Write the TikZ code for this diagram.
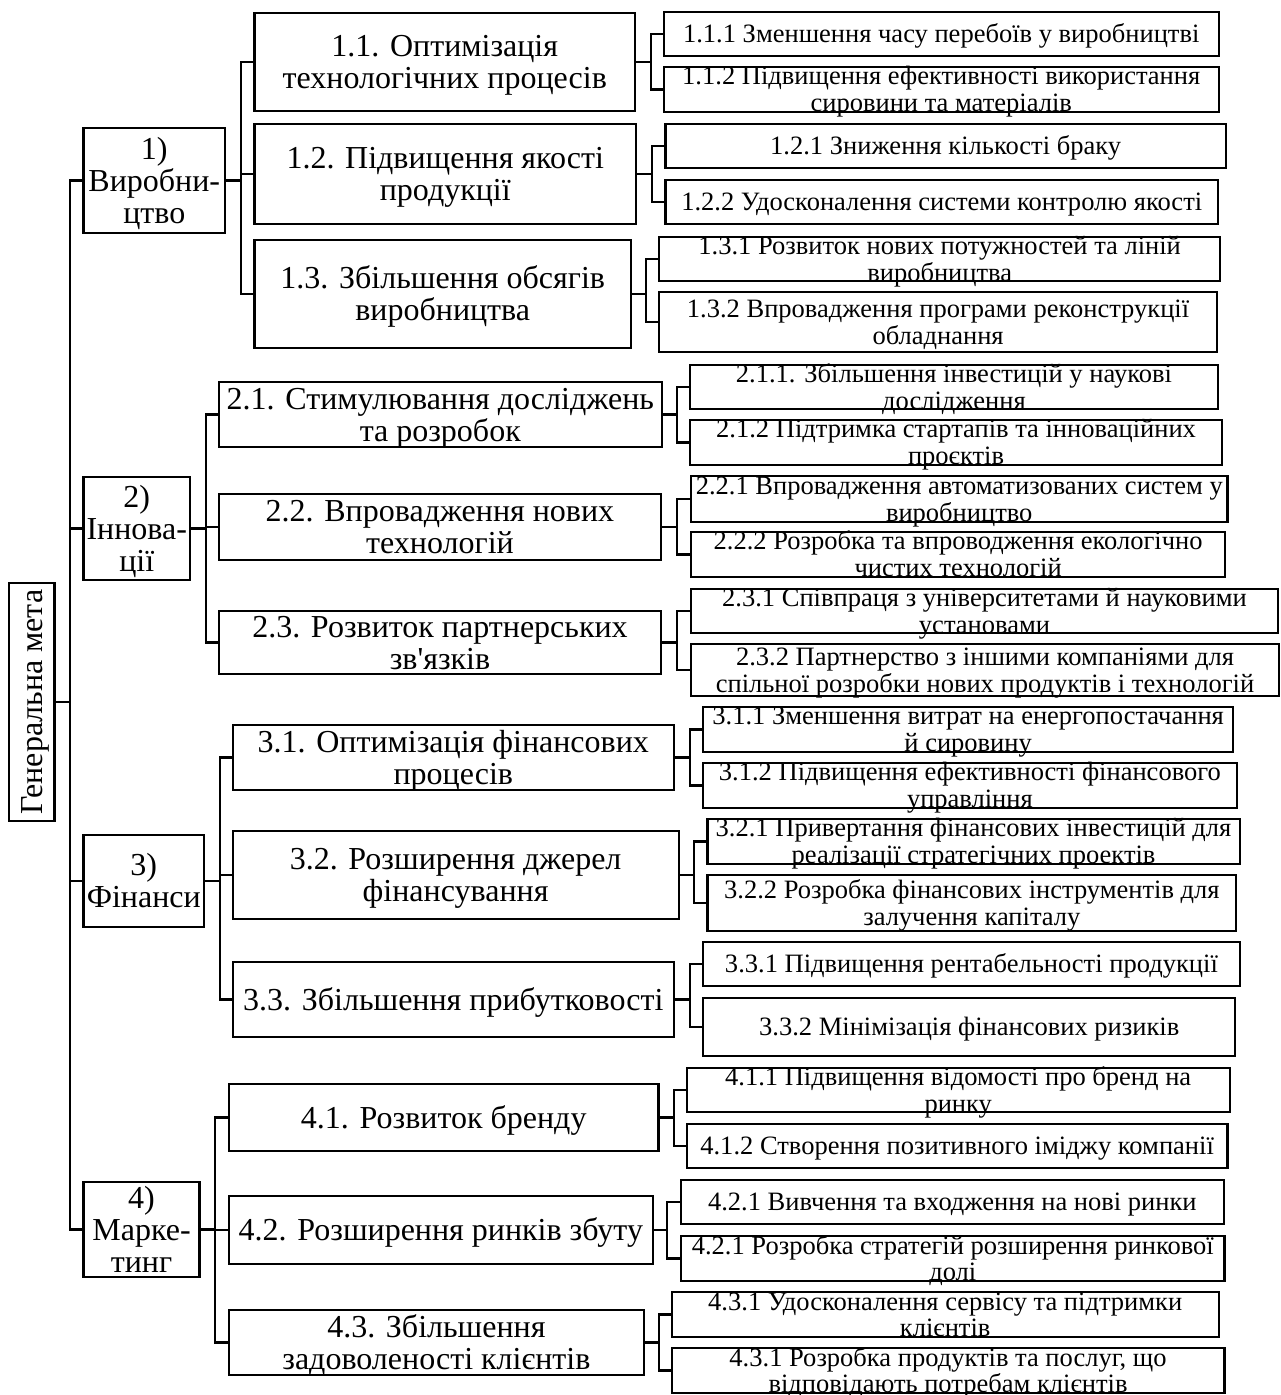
\documentclass[tikz,border=0pt]{standalone}
\usepackage{fontspec}
\setmainfont{Liberation Serif}
\usepackage{tikz}

\begin{document}
\begin{tikzpicture}[x=0.4375pt, y=-0.4375pt,
	sz/.style 2 args={minimum width=#1*0.4375pt, minimum height=#2*0.4375pt},
	goal/.style={draw, line width=0.9pt, inner sep=0pt, rotate=90, font={\fontsize{14}{14}\selectfont}},
	dir/.style={draw, line width=0.9pt, inner sep=0pt, align=center, font={\fontsize{14}{14}\selectfont\lineskiplimit=-20pt}},
	task/.style={dir},
	act/.style={draw, line width=0.9pt, inner sep=0pt, align=center, font={\fontsize{11.6}{11.6}\selectfont\lineskiplimit=-20pt}},
	one/.style={text height=7.65pt, text depth=0pt},
	two/.style={text height=19.25pt, text depth=0pt},
	One/.style={text height=9.3pt, text depth=0pt},
	Two/.style={text height=23.3pt, text depth=0pt},
	Three/.style={text height=37.3pt, text depth=0pt},
	link/.style={line width=0.9pt}]
	%\draw[help lines] (0,0) grid[step=100] (1280,1395);
	\useasboundingbox (0,0) rectangle (1280,1395);
	\node[goal, sz={238}{45.5}, One] (goal) at (31.75,702) {Генеральна мета};

	\node[dir, sz={141.5}{105}, Three] (d1) at (154.25,180.5) {1)\\Виробни-\\цтво};
	\node[dir, sz={106.5}{103}, Three] (d2) at (136.75,528.5) {2)\\Іннова-\\ції};
	\node[dir, sz={120.5}{92}, Two] (d3) at (143.75,881) {3)\\Фінанси};
	\node[dir, sz={116}{95}, Three] (d4) at (141.5,1229.5) {4)\\Марке-\\тинг};

	\node[task, sz={380.5}{98}, Two] (t11) at (444.75,62) {1.1. Оптимізація\\технологічних процесів};
	\node[task, sz={381.5}{100}, Two] (t12) at (445.25,174) {1.2. Підвищення якості\\продукції};
	\node[task, sz={376.5}{108}, Two] (t13) at (442.75,294) {1.3. Збільшення обсягів\\виробництва};
	\node[task, sz={442.6}{65}, Two] (t21) at (440.3,414.5) {2.1. Стимулювання досліджень\\та розробок};
	\node[task, sz={442}{66}, Two] (t22) at (440,527) {2.2. Впровадження нових\\технологій};
	\node[task, sz={442}{63}, Two] (t23) at (440,642.5) {2.3. Розвиток партнерських\\зв\textquotesingle язків};
	\node[task, sz={441.4}{65}, Two] (t31) at (453.3,757.5) {3.1. Оптимізація фінансових\\процесів};
	\node[task, sz={446}{88}, Two] (t32) at (455.6,875) {3.2. Розширення джерел\\фінансування};
	\node[task, sz={441.4}{75}, One] (t33) at (453.3,999.5) {3.3. Збільшення прибутковості};
	\node[task, sz={429.5}{67}, One] (t41) at (443.75,1117.5) {4.1. Розвиток бренду};
	\node[task, sz={423.7}{68}, One] (t42) at (440.85,1230) {4.2. Розширення ринків збуту};
	\node[task, sz={414.8}{65}, Two] (t43) at (436.4,1342.5) {4.3. Збільшення\\задоволеності клієнтів};

	\node[act, sz={555.1}{44}, one] (a111) at (941.25,34) {1.1.1 Зменшення часу перебоїв у виробництві};
	\node[act, sz={555.1}{45}, two] (a112) at (941.25,89.5) {1.1.2 Підвищення ефективності використання\\сировини та матеріалів};
	\node[act, sz={560.3}{44}, one] (a121) at (945.65,146) {1.2.1 Зниження кількості браку};
	\node[act, sz={552.5}{44}, one] (a122) at (941.75,202) {1.2.2 Удосконалення системи контролю якості};
	\node[act, sz={560.6}{44}, two] (a131) at (939.7,259) {1.3.1 Розвиток нових потужностей та ліній\\виробництва};
	\node[act, sz={557.3}{60}, two] (a132) at (938.05,322) {1.3.2 Впровадження програми реконструкції\\обладнання};
	\node[act, sz={528.2}{44}, two] (a211) at (953.9,387) {2.1.1. Збільшення інвестицій у наукові\\дослідження};
	\node[act, sz={532.5}{45}, two] (a212) at (956.05,442.5) {2.1.2 Підтримка стартапів та інноваційних\\проєктів};
	\node[act, sz={536.5}{46}, two] (a221) at (959.25,499) {2.2.1 Впровадження автоматизованих систем у\\виробництво};
	\node[act, sz={534.3}{45}, two] (a222) at (958.15,554.5) {2.2.2 Розробка та впроводження екологічно\\чистих технологій};
	\node[act, sz={587}{44}, two] (a231) at (984.5,611) {2.3.1 Співпраця з університетами й науковими\\установами};
	\node[act, sz={588}{52}, two] (a232) at (985,670) {2.3.2 Партнерство з іншими компаніями для\\спільної розробки нових продуктів і технологій};
	\node[act, sz={529.9}{45}, two] (a311) at (968.15,729.5) {3.1.1 Зменшення витрат на енергопостачання\\й сировину};
	\node[act, sz={533.4}{45}, two] (a312) at (969.9,785.5) {3.1.2 Підвищення ефективності фінансового\\управління};
	\node[act, sz={532.1}{45}, two] (a321) at (973.55,841.5) {3.2.1 Привертання фінансових інвестицій для\\реалізації стратегічних проектів};
	\node[act, sz={528.7}{56}, two] (a322) at (971.85,903) {3.2.2 Розробка фінансових інструментів для\\залучення капіталу};
	\node[act, sz={536.4}{44}, one] (a331) at (971.4,964) {3.3.1 Підвищення рентабельності продукції};
	\node[act, sz={532.1}{58}, one] (a332) at (969.25,1027) {3.3.2 Мінімізація фінансових ризиків};
	\node[act, sz={543}{44}, two] (a411) at (958.2,1090) {4.1.1 Підвищення відомості про бренд на\\ринку};
	\node[act, sz={540.8}{44}, one] (a412) at (957.1,1146) {4.1.2 Створення позитивного іміджу компанії};
	\node[act, sz={542.5}{44}, one] (a421) at (952.35,1202) {4.2.1 Вивчення та входження на нові ринки};
	\node[act, sz={543.4}{45}, two] (a422) at (952.8,1258.5) {4.2.1 Розробка стратегій розширення ринкової\\долі};
	\node[act, sz={547.2}{45}, two] (a431) at (945.2,1314.5) {4.3.1 Удосконалення сервісу та підтримки\\клієнтів};
	\node[act, sz={552.9}{45}, two] (a432) at (948.05,1370.5) {4.3.1 Розробка продуктів та послуг, що\\відповідають потребам клієнтів};

	% root -> directions
	\draw[link] (goal.south) -- ++(14.5,0) |- (d1.west);
	\draw[link] (goal.south) -- ++(14.5,0) |- (d2.west);
	\draw[link] (goal.south) -- ++(14.5,0) |- (d3.west);
	\draw[link] (goal.south) -- ++(14.5,0) |- (d4.west);

	% directions -> tasks
	\draw[link] (d1.east) -- ++(15,0) |- (t11.west);
	\draw[link] (d1.east) -- ++(15,0) |- (t12.west);
	\draw[link] (d1.east) -- ++(15,0) |- (t13.west);
	\draw[link] (d2.east) -- ++(14.5,0) |- (t21.west);
	\draw[link] (d2.east) -- ++(14.5,0) |- (t22.west);
	\draw[link] (d2.east) -- ++(14.5,0) |- (t23.west);
	\draw[link] (d3.east) -- ++(15,0) |- (t31.west);
	\draw[link] (d3.east) -- ++(15,0) |- (t32.west);
	\draw[link] (d3.east) -- ++(15,0) |- (t33.west);
	\draw[link] (d4.east) -- ++(14.5,0) |- (t41.west);
	\draw[link] (d4.east) -- ++(14.5,0) |- (t42.west);
	\draw[link] (d4.east) -- ++(14.5,0) |- (t43.west);

	% tasks -> actions
	\draw[link] (t11.east) -- ++(15,0) |- (a111.west);
	\draw[link] (t11.east) -- ++(15,0) |- (a112.west);
	\draw[link] (t12.east) -- ++(15,0) |- (a121.west);
	\draw[link] (t12.east) -- ++(15,0) |- (a122.west);
	\draw[link] (t13.east) -- ++(14,0) |- (a131.west);
	\draw[link] (t13.east) -- ++(14,0) |- (a132.west);
	\draw[link] (t21.east) -- ++(14.3,0) |- (a211.west);
	\draw[link] (t21.east) -- ++(14.3,0) |- (a212.west);
	\draw[link] (t22.east) -- ++(15,0) |- (a221.west);
	\draw[link] (t22.east) -- ++(15,0) |- (a222.west);
	\draw[link] (t23.east) -- ++(15,0) |- (a231.west);
	\draw[link] (t23.east) -- ++(15,0) |- (a232.west);
	\draw[link] (t31.east) -- ++(15,0) |- (a311.west);
	\draw[link] (t31.east) -- ++(15,0) |- (a312.west);
	\draw[link] (t32.east) -- ++(14.6,0) |- (a321.west);
	\draw[link] (t32.east) -- ++(14.6,0) |- (a322.west);
	\draw[link] (t33.east) -- ++(15,0) |- (a331.west);
	\draw[link] (t33.east) -- ++(15,0) |- (a332.west);
	\draw[link] (t41.east) -- ++(14,0) |- (a411.west);
	\draw[link] (t41.east) -- ++(14,0) |- (a412.west);
	\draw[link] (t42.east) -- ++(13.6,0) |- (a421.west);
	\draw[link] (t42.east) -- ++(13.6,0) |- (a422.west);
	\draw[link] (t43.east) -- ++(14,0) |- (a431.west);
	\draw[link] (t43.east) -- ++(14,0) |- (a432.west);
\end{tikzpicture}
\end{document}
